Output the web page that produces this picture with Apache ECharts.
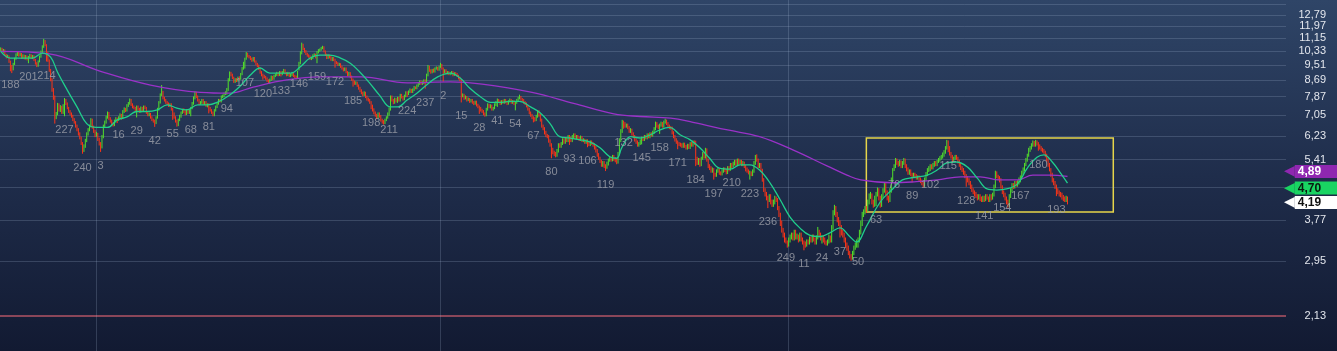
<!DOCTYPE html>
<html><head><meta charset="utf-8">
<script src="https://cdn.jsdelivr.net/npm/echarts@6/dist/echarts.min.js"></script>
<style>html,body{margin:0;padding:0;background:#1c2844;overflow:hidden}#c{width:1337px;height:351px}</style>
</head><body><div id="c"></div>
<script>
const closes = [
10.45,10.30,10.38,10.10,9.95,10.02,9.70,9.45,9.25,9.55,
9.85,10.10,10.22,10.05,10.15,9.92,10.05,9.88,10.00,9.82,
9.95,10.08,9.90,10.02,9.78,9.60,9.45,9.70,9.98,10.25,
10.60,10.95,10.70,10.20,9.75,9.20,8.70,8.20,7.85,6.95,
7.10,7.50,7.25,7.40,7.15,7.45,7.70,7.55,7.35,7.20,
7.10,7.00,6.85,6.75,6.60,6.45,6.30,6.15,5.95,5.72,
5.85,6.05,6.30,6.45,6.60,6.85,6.55,6.40,6.25,6.30,
6.10,5.95,5.82,6.20,6.60,6.75,6.95,7.12,6.90,6.80,
6.70,6.64,6.80,6.90,6.78,6.95,7.05,6.92,7.20,7.30,
7.25,7.45,7.55,7.70,7.50,7.40,7.35,7.25,7.40,7.30,
7.20,7.35,7.25,7.40,7.35,7.15,7.05,7.10,6.95,6.85,
6.80,6.72,6.95,7.30,7.60,7.95,8.10,7.80,7.70,7.60,
7.55,7.45,7.50,7.30,7.10,6.95,6.80,6.65,6.85,7.00,
7.15,7.27,7.20,7.10,7.25,7.15,7.22,7.35,7.55,7.80,
8.05,7.85,7.70,7.55,7.60,7.70,7.55,7.60,7.45,7.50,
7.35,7.25,7.15,7.05,7.25,7.40,7.55,7.70,7.65,7.85,
7.90,8.00,8.05,8.20,8.70,9.05,8.95,8.80,8.60,8.70,
8.65,8.80,8.75,9.00,9.30,9.60,9.85,10.15,10.00,9.95,
9.85,9.75,9.90,9.70,9.55,9.45,9.30,9.10,8.95,8.90,
8.85,8.75,8.65,8.55,8.70,8.85,8.75,8.90,8.95,9.05,
8.95,9.10,9.00,9.10,9.20,9.05,8.95,9.05,8.90,8.95,
9.05,8.90,8.85,8.80,9.10,9.60,10.20,10.70,10.45,10.30,
10.15,10.05,10.00,9.85,9.90,10.05,10.10,9.95,10.25,10.35,
10.40,10.50,10.55,10.30,10.10,9.90,10.05,9.95,9.80,9.90,
9.80,9.65,9.60,9.50,9.55,9.40,9.30,9.22,9.30,9.10,
8.95,9.05,8.85,8.70,8.60,8.50,8.55,8.40,8.28,8.15,
8.05,7.95,8.05,7.85,7.75,7.70,7.60,7.45,7.27,7.15,
7.05,6.95,7.10,7.00,6.85,6.78,6.72,6.85,6.95,7.10,
7.30,7.85,7.70,7.60,7.75,7.65,7.80,7.70,7.94,7.85,
7.75,7.90,8.05,8.00,8.10,8.18,8.10,8.20,8.30,8.28,
8.40,8.50,8.59,8.50,8.55,8.65,8.59,8.95,9.40,9.20,
9.10,9.22,9.15,9.30,9.35,9.25,9.40,9.50,9.30,9.10,
9.20,9.05,9.10,9.00,9.05,9.10,8.95,9.05,9.00,8.90,
8.80,8.69,7.90,7.94,7.80,7.85,7.71,7.75,7.65,7.70,
7.60,7.55,7.62,7.49,7.40,7.35,7.27,7.20,7.10,7.05,
7.30,7.49,7.40,7.45,7.30,7.35,7.50,7.60,7.71,7.65,
7.55,7.65,7.60,7.70,7.62,7.55,7.65,7.71,7.60,7.65,
7.55,7.60,7.70,7.80,7.85,7.75,7.70,7.60,7.55,7.45,
7.30,7.15,7.05,6.95,6.90,6.85,7.00,7.20,7.05,6.85,
6.60,6.50,6.35,6.25,6.20,6.05,5.90,5.73,5.65,5.60,
5.56,5.70,5.90,5.85,5.95,6.08,6.00,6.10,6.05,6.20,
6.15,6.05,6.20,6.26,6.15,6.20,6.15,6.10,6.18,6.05,
6.08,6.00,6.05,5.97,5.92,6.00,5.95,5.90,5.80,5.70,
5.56,5.45,5.35,5.24,5.30,5.20,5.17,5.28,5.39,5.45,
5.40,5.50,5.42,5.38,5.33,5.60,6.08,6.40,6.75,6.70,
6.60,6.64,6.55,6.40,6.45,6.30,6.20,6.08,6.00,5.90,
5.95,6.05,6.15,6.10,6.20,6.15,6.26,6.20,6.30,6.25,
6.37,6.50,6.70,6.60,6.55,6.64,6.70,6.60,6.75,6.80,
6.70,6.60,6.55,6.53,6.35,6.20,6.08,6.00,5.95,5.92,
5.90,5.85,5.92,5.85,5.80,5.88,5.82,5.95,5.90,6.00,
5.95,5.45,5.30,5.40,5.24,5.45,5.60,5.50,5.73,5.40,
5.20,5.14,5.05,5.10,4.95,4.93,5.05,5.10,5.00,4.98,
5.05,5.10,5.08,5.00,5.15,5.10,5.24,5.20,5.28,5.35,
5.25,5.39,5.30,5.35,5.25,5.30,5.20,5.10,5.05,5.00,
5.00,4.95,5.05,5.30,5.50,5.40,5.20,5.25,5.08,4.80,
4.51,4.40,4.30,4.25,4.35,4.20,4.13,4.20,4.30,4.25,
4.05,3.89,3.70,3.55,3.45,3.35,3.30,3.25,3.35,3.40,
3.45,3.38,3.50,3.40,3.42,3.35,3.45,3.35,3.30,3.27,
3.25,3.32,3.30,3.38,3.35,3.42,3.35,3.30,3.40,3.52,
3.45,3.38,3.40,3.35,3.30,3.28,3.32,3.40,3.35,3.60,
3.95,4.05,3.90,3.77,3.70,3.60,3.50,3.45,3.35,3.25,
3.20,3.10,3.05,3.00,3.10,3.20,3.25,3.30,3.35,3.50,
3.70,3.89,3.95,4.05,4.00,4.20,4.35,4.38,4.20,4.13,
4.30,4.40,4.51,4.30,4.13,4.35,4.50,4.65,4.45,4.30,
4.25,4.50,4.80,5.08,5.20,5.39,5.30,5.25,5.33,5.20,
5.30,5.39,5.20,5.10,5.00,5.05,4.95,4.93,4.95,4.90,
4.85,4.86,4.80,4.75,4.70,4.65,4.80,4.95,5.08,5.15,
5.20,5.15,5.24,5.30,5.25,5.35,5.39,5.45,5.50,5.56,
5.65,5.80,6.00,5.80,5.60,5.50,5.39,5.45,5.50,5.45,
5.35,5.25,5.15,5.08,5.00,4.90,4.85,4.79,4.70,4.60,
4.51,4.45,4.40,4.35,4.30,4.35,4.28,4.25,4.30,4.28,
4.35,4.30,4.25,4.35,4.30,4.38,4.60,5.00,4.90,4.85,
4.79,4.60,4.45,4.38,4.30,4.20,4.13,4.35,4.50,4.65,
4.60,4.70,4.65,4.72,4.80,4.85,5.00,5.10,5.25,5.39,
5.55,5.73,5.80,5.90,5.97,5.90,6.00,5.95,5.85,5.80,
5.75,5.70,5.66,5.55,5.40,5.24,5.10,4.95,4.79,4.70,
4.60,4.51,4.45,4.40,4.38,4.32,4.28,4.25,4.30,4.19
];
const opens = [
10.40,10.45,10.30,10.38,10.10,9.95,10.02,9.70,9.45,9.25,
9.55,9.85,10.10,10.22,10.05,10.15,9.92,10.05,9.88,10.00,
9.82,9.95,10.08,9.90,10.02,9.78,9.60,9.45,9.70,9.98,
10.25,10.60,10.95,10.70,10.20,9.75,9.20,8.70,8.20,7.85,
6.95,7.10,7.50,7.25,7.40,7.15,7.45,7.70,7.55,7.35,
7.20,7.10,7.00,6.85,6.75,6.60,6.45,6.30,6.15,5.95,
5.72,5.85,6.05,6.30,6.45,6.60,6.85,6.55,6.40,6.25,
6.30,6.10,5.95,5.82,6.20,6.60,6.75,6.95,7.12,6.90,
6.80,6.70,6.64,6.80,6.90,6.78,6.95,7.05,6.92,7.20,
7.30,7.25,7.45,7.55,7.70,7.50,7.40,7.35,7.25,7.40,
7.30,7.20,7.35,7.25,7.40,7.35,7.15,7.05,7.10,6.95,
6.85,6.80,6.72,6.95,7.30,7.60,7.95,8.10,7.80,7.70,
7.60,7.55,7.45,7.50,7.30,7.10,6.95,6.80,6.65,6.85,
7.00,7.15,7.27,7.20,7.10,7.25,7.15,7.22,7.35,7.55,
7.80,8.05,7.85,7.70,7.55,7.60,7.70,7.55,7.60,7.45,
7.50,7.35,7.25,7.15,7.05,7.25,7.40,7.55,7.70,7.65,
7.85,7.90,8.00,8.05,8.20,8.70,9.05,8.95,8.80,8.60,
8.70,8.65,8.80,8.75,9.00,9.30,9.60,9.85,10.15,10.00,
9.95,9.85,9.75,9.90,9.70,9.55,9.45,9.30,9.10,8.95,
8.90,8.85,8.75,8.65,8.55,8.70,8.85,8.75,8.90,8.95,
9.05,8.95,9.10,9.00,9.10,9.20,9.05,8.95,9.05,8.90,
8.95,9.05,8.90,8.85,8.80,9.10,9.60,10.20,10.70,10.45,
10.30,10.15,10.05,10.00,9.85,9.90,10.05,10.10,9.95,10.25,
10.35,10.40,10.50,10.55,10.30,10.10,9.90,10.05,9.95,9.80,
9.90,9.80,9.65,9.60,9.50,9.55,9.40,9.30,9.22,9.30,
9.10,8.95,9.05,8.85,8.70,8.60,8.50,8.55,8.40,8.28,
8.15,8.05,7.95,8.05,7.85,7.75,7.70,7.60,7.45,7.27,
7.15,7.05,6.95,7.10,7.00,6.85,6.78,6.72,6.85,6.95,
7.10,7.30,7.85,7.70,7.60,7.75,7.65,7.80,7.70,7.94,
7.85,7.75,7.90,8.05,8.00,8.10,8.18,8.10,8.20,8.30,
8.28,8.40,8.50,8.59,8.50,8.55,8.65,8.59,8.95,9.40,
9.20,9.10,9.22,9.15,9.30,9.35,9.25,9.40,9.50,9.30,
9.10,9.20,9.05,9.10,9.00,9.05,9.10,8.95,9.05,9.00,
8.90,8.80,8.69,7.90,7.94,7.80,7.85,7.71,7.75,7.65,
7.70,7.60,7.55,7.62,7.49,7.40,7.35,7.27,7.20,7.10,
7.05,7.30,7.49,7.40,7.45,7.30,7.35,7.50,7.60,7.71,
7.65,7.55,7.65,7.60,7.70,7.62,7.55,7.65,7.71,7.60,
7.65,7.55,7.60,7.70,7.80,7.85,7.75,7.70,7.60,7.55,
7.45,7.30,7.15,7.05,6.95,6.90,6.85,7.00,7.20,7.05,
6.85,6.60,6.50,6.35,6.25,6.20,6.05,5.90,5.73,5.65,
5.60,5.56,5.70,5.90,5.85,5.95,6.08,6.00,6.10,6.05,
6.20,6.15,6.05,6.20,6.26,6.15,6.20,6.15,6.10,6.18,
6.05,6.08,6.00,6.05,5.97,5.92,6.00,5.95,5.90,5.80,
5.70,5.56,5.45,5.35,5.24,5.30,5.20,5.17,5.28,5.39,
5.45,5.40,5.50,5.42,5.38,5.33,5.60,6.08,6.40,6.75,
6.70,6.60,6.64,6.55,6.40,6.45,6.30,6.20,6.08,6.00,
5.90,5.95,6.05,6.15,6.10,6.20,6.15,6.26,6.20,6.30,
6.25,6.37,6.50,6.70,6.60,6.55,6.64,6.70,6.60,6.75,
6.80,6.70,6.60,6.55,6.53,6.35,6.20,6.08,6.00,5.95,
5.92,5.90,5.85,5.92,5.85,5.80,5.88,5.82,5.95,5.90,
6.00,5.95,5.45,5.30,5.40,5.24,5.45,5.60,5.50,5.73,
5.40,5.20,5.14,5.05,5.10,4.95,4.93,5.05,5.10,5.00,
4.98,5.05,5.10,5.08,5.00,5.15,5.10,5.24,5.20,5.28,
5.35,5.25,5.39,5.30,5.35,5.25,5.30,5.20,5.10,5.05,
5.00,5.00,4.95,5.05,5.30,5.50,5.40,5.20,5.25,5.08,
4.80,4.51,4.40,4.30,4.25,4.35,4.20,4.13,4.20,4.30,
4.25,4.05,3.89,3.70,3.55,3.45,3.35,3.30,3.25,3.35,
3.40,3.45,3.38,3.50,3.40,3.42,3.35,3.45,3.35,3.30,
3.27,3.25,3.32,3.30,3.38,3.35,3.42,3.35,3.30,3.40,
3.52,3.45,3.38,3.40,3.35,3.30,3.28,3.32,3.40,3.35,
3.60,3.95,4.05,3.90,3.77,3.70,3.60,3.50,3.45,3.35,
3.25,3.20,3.10,3.05,3.00,3.10,3.20,3.25,3.30,3.35,
3.50,3.70,3.89,3.95,4.05,4.00,4.20,4.35,4.38,4.20,
4.13,4.30,4.40,4.51,4.30,4.13,4.35,4.50,4.65,4.45,
4.30,4.25,4.50,4.80,5.08,5.20,5.39,5.30,5.25,5.33,
5.20,5.30,5.39,5.20,5.10,5.00,5.05,4.95,4.93,4.95,
4.90,4.85,4.86,4.80,4.75,4.70,4.65,4.80,4.95,5.08,
5.15,5.20,5.15,5.24,5.30,5.25,5.35,5.39,5.45,5.50,
5.56,5.65,5.80,6.00,5.80,5.60,5.50,5.39,5.45,5.50,
5.45,5.35,5.25,5.15,5.08,5.00,4.90,4.85,4.79,4.70,
4.60,4.51,4.45,4.40,4.35,4.30,4.35,4.28,4.25,4.30,
4.28,4.35,4.30,4.25,4.35,4.30,4.38,4.60,5.00,4.90,
4.85,4.79,4.60,4.45,4.38,4.30,4.20,4.13,4.35,4.50,
4.65,4.60,4.70,4.65,4.72,4.80,4.85,5.00,5.10,5.25,
5.39,5.55,5.73,5.80,5.90,5.97,5.90,6.00,5.95,5.85,
5.80,5.75,5.70,5.66,5.55,5.40,5.24,5.10,4.95,4.79,
4.70,4.60,4.51,4.45,4.40,4.38,4.32,4.28,4.25,4.30
];
const highs = [
10.55,10.52,10.45,10.42,10.15,10.10,10.05,9.75,9.50,9.62,
9.92,10.18,10.30,10.28,10.22,10.20,10.12,10.10,10.08,10.05,
10.02,10.15,10.12,10.08,10.06,9.85,9.66,9.76,10.05,10.35,
10.68,11.10,11.02,10.75,10.28,9.82,9.28,8.78,8.28,7.92,
7.18,7.58,7.56,7.48,7.45,7.52,7.80,7.76,7.60,7.40,
7.26,7.16,7.06,6.92,6.80,6.66,6.52,6.36,6.20,6.00,
5.92,6.12,6.36,6.52,6.66,6.92,6.90,6.62,6.46,6.38,
6.34,6.16,6.00,6.26,6.66,6.82,7.02,7.20,7.18,6.96,
6.86,6.76,6.86,6.96,6.94,7.00,7.12,7.10,7.26,7.38,
7.36,7.52,7.62,7.78,7.76,7.56,7.46,7.40,7.46,7.46,
7.36,7.42,7.40,7.46,7.46,7.40,7.20,7.16,7.14,7.00,
6.90,6.86,7.00,7.36,7.66,8.02,8.43,8.14,7.86,7.76,
7.66,7.60,7.56,7.56,7.36,7.16,7.00,6.86,6.90,7.06,
7.20,7.32,7.34,7.26,7.30,7.30,7.28,7.40,7.62,7.88,
8.12,8.10,7.92,7.76,7.66,7.76,7.76,7.66,7.66,7.56,
7.56,7.40,7.30,7.20,7.30,7.46,7.60,7.76,7.76,7.92,
7.96,8.06,8.12,8.28,8.78,9.14,9.12,9.02,8.86,8.78,
8.78,8.86,8.88,9.06,9.38,9.68,9.92,10.26,10.22,10.08,
10.02,9.92,9.96,9.96,9.76,9.62,9.52,9.36,9.16,9.02,
8.96,8.90,8.82,8.72,8.76,8.92,8.90,8.96,9.02,9.12,
9.10,9.16,9.16,9.16,9.28,9.26,9.10,9.12,9.10,9.02,
9.12,9.10,8.96,8.92,9.18,9.68,10.30,10.85,10.78,10.52,
10.38,10.22,10.12,10.06,9.98,10.12,10.18,10.16,10.32,10.44,
10.48,10.58,10.65,10.62,10.36,10.16,10.12,10.10,10.02,9.96,
9.96,9.86,9.72,9.66,9.62,9.60,9.46,9.36,9.36,9.36,
9.16,9.12,9.10,8.92,8.76,8.66,8.62,8.60,8.46,8.34,
8.22,8.10,8.12,8.10,7.92,7.82,7.76,7.66,7.50,7.34,
7.20,7.10,7.16,7.16,7.05,6.90,6.84,6.90,7.00,7.16,
7.38,7.92,7.92,7.76,7.82,7.80,7.86,7.86,8.00,8.00,
7.90,7.96,8.12,8.12,8.16,8.26,8.24,8.26,8.38,8.36,
8.46,8.56,8.66,8.66,8.62,8.72,8.72,9.02,9.50,9.46,
9.26,9.28,9.30,9.36,9.42,9.40,9.46,9.62,9.56,9.36,
9.26,9.26,9.16,9.16,9.10,9.16,9.16,9.10,9.10,9.06,
8.96,8.86,8.74,8.02,8.00,7.92,7.90,7.82,7.80,7.76,
7.76,7.66,7.68,7.68,7.54,7.46,7.40,7.32,7.26,7.16,
7.36,7.56,7.54,7.52,7.50,7.40,7.56,7.66,7.78,7.76,
7.70,7.70,7.72,7.76,7.76,7.68,7.70,7.78,7.76,7.70,
7.70,7.66,7.76,7.86,7.96,7.90,7.80,7.76,7.66,7.60,
7.50,7.36,7.20,7.10,7.00,6.96,7.06,7.26,7.26,7.10,
6.90,6.66,6.56,6.42,6.30,6.26,6.10,5.96,5.80,5.70,
5.66,5.76,5.96,5.96,6.00,6.14,6.14,6.16,6.16,6.26,
6.26,6.20,6.26,6.32,6.32,6.26,6.26,6.20,6.24,6.22,
6.14,6.12,6.10,6.10,6.02,6.06,6.06,6.00,5.96,5.86,
5.76,5.62,5.50,5.40,5.36,5.36,5.26,5.34,5.44,5.50,
5.50,5.56,5.56,5.48,5.44,5.66,6.14,6.48,6.85,6.82,
6.76,6.70,6.70,6.60,6.52,6.50,6.36,6.26,6.14,6.06,
6.00,6.10,6.20,6.20,6.26,6.26,6.32,6.32,6.36,6.36,
6.42,6.56,6.78,6.76,6.66,6.70,6.78,6.76,6.82,6.90,
6.86,6.76,6.66,6.60,6.58,6.40,6.26,6.14,6.06,6.00,
5.98,5.96,5.98,5.98,5.90,5.94,5.94,6.00,6.00,6.06,
6.06,6.05,5.50,5.46,5.46,5.50,5.66,5.66,5.80,5.78,
5.44,5.26,5.20,5.16,5.14,5.00,5.10,5.16,5.14,5.04,
5.10,5.16,5.16,5.12,5.20,5.20,5.30,5.30,5.34,5.40,
5.40,5.44,5.44,5.40,5.40,5.36,5.34,5.24,5.16,5.10,
5.06,5.04,5.10,5.36,5.56,5.58,5.44,5.30,5.30,5.12,
4.84,4.56,4.46,4.36,4.40,4.40,4.26,4.26,4.36,4.34,
4.30,4.10,3.94,3.76,3.60,3.50,3.40,3.34,3.40,3.46,
3.50,3.50,3.56,3.56,3.48,3.46,3.50,3.50,3.40,3.34,
3.32,3.36,3.36,3.42,3.42,3.46,3.46,3.40,3.44,3.62,
3.56,3.50,3.44,3.44,3.40,3.34,3.36,3.46,3.44,3.66,
4.00,4.13,4.10,3.96,3.84,3.76,3.66,3.56,3.50,3.40,
3.30,3.24,3.14,3.08,3.14,3.24,3.30,3.36,3.40,3.56,
3.76,3.96,4.02,4.10,4.10,4.26,4.42,4.46,4.42,4.26,
4.36,4.46,4.58,4.56,4.36,4.40,4.56,4.72,4.70,4.50,
4.36,4.56,4.86,5.14,5.26,5.46,5.44,5.36,5.40,5.38,
5.36,5.46,5.44,5.26,5.16,5.10,5.10,5.00,5.00,5.00,
4.96,4.92,4.92,4.86,4.80,4.74,4.86,5.02,5.14,5.20,
5.26,5.26,5.30,5.36,5.36,5.40,5.46,5.52,5.56,5.64,
5.72,5.86,6.08,6.06,5.86,5.66,5.56,5.50,5.56,5.56,
5.50,5.40,5.30,5.20,5.14,5.06,4.96,4.90,4.84,4.76,
4.66,4.56,4.50,4.46,4.40,4.40,4.40,4.34,4.36,4.36,
4.40,4.40,4.34,4.40,4.40,4.44,4.66,5.06,5.04,4.94,
4.90,4.84,4.64,4.50,4.44,4.34,4.26,4.40,4.56,4.70,
4.70,4.76,4.76,4.78,4.86,4.92,5.06,5.16,5.30,5.46,
5.60,5.80,5.86,5.96,6.06,6.04,6.08,6.06,6.00,5.92,
5.86,5.80,5.76,5.70,5.60,5.46,5.30,5.14,5.00,4.84,
4.76,4.66,4.56,4.50,4.46,4.44,4.38,4.34,4.36,4.34
];
const lows = [
10.32,10.25,10.22,10.05,9.88,9.90,9.62,9.15,9.05,9.20,
9.50,9.80,10.02,9.98,10.00,9.85,9.86,9.82,9.82,9.76,
9.60,9.90,9.85,9.84,9.72,9.52,9.38,9.40,9.65,9.92,
10.18,10.52,10.62,9.70,9.68,9.12,8.62,8.10,7.72,6.70,
6.88,7.04,7.20,7.18,7.10,7.10,7.00,7.48,7.30,7.14,
7.04,6.94,6.80,6.70,6.54,6.40,6.24,6.10,5.90,5.60,
5.66,5.80,6.00,6.24,6.40,6.55,6.50,6.34,6.18,6.20,
6.04,5.88,5.66,5.78,6.14,6.54,6.70,6.90,6.84,6.74,
6.64,6.58,6.60,6.74,6.72,6.81,6.90,6.86,6.88,7.14,
7.18,7.20,7.40,7.50,7.44,7.34,7.30,7.18,6.95,7.24,
7.14,7.15,7.20,7.20,7.30,7.10,7.00,7.00,6.90,6.80,
6.74,6.57,6.68,6.90,7.24,7.55,7.90,7.74,7.64,7.54,
7.48,7.40,7.40,7.24,6.85,6.90,6.74,6.58,6.60,6.80,
6.94,7.10,7.14,7.04,7.05,7.10,7.10,7.00,7.30,7.50,
7.74,7.80,7.64,7.48,7.50,7.54,7.50,7.48,7.40,7.38,
7.12,7.20,7.10,7.00,7.00,7.20,7.35,7.50,7.60,7.60,
7.80,7.84,7.94,7.96,8.14,8.62,8.88,8.74,8.54,8.54,
8.58,8.60,8.68,8.70,8.94,9.24,9.30,9.80,9.94,9.88,
9.78,9.68,9.70,9.64,9.48,9.38,9.22,9.02,8.88,8.70,
8.78,8.70,8.58,8.48,8.50,8.64,8.68,8.70,8.84,8.90,
8.88,8.90,8.87,8.94,9.04,8.98,8.88,8.90,8.84,8.84,
8.90,8.84,8.78,8.72,8.74,9.20,9.54,10.12,10.38,10.22,
10.08,9.98,9.92,9.78,9.78,9.84,9.98,9.88,9.60,10.18,
10.28,10.34,10.44,10.24,10.02,9.84,9.85,9.88,9.74,9.72,
9.72,9.35,9.54,9.44,9.44,9.34,9.24,9.14,9.16,9.04,
8.88,8.90,8.78,8.64,8.35,8.44,8.44,8.34,8.20,8.08,
7.98,7.88,7.90,7.80,7.68,7.64,7.54,7.30,7.20,7.08,
6.98,6.88,6.90,6.94,6.78,6.70,6.66,6.68,6.80,6.90,
7.02,7.24,7.64,7.52,7.54,7.60,7.58,7.64,7.64,7.78,
7.68,7.70,7.84,7.85,7.94,8.04,8.04,8.04,8.14,8.22,
8.22,8.34,8.44,8.44,8.44,8.48,8.25,8.52,8.88,9.12,
9.02,9.04,9.08,9.08,9.24,9.18,9.18,9.34,9.24,8.60,
9.04,8.98,8.98,8.94,8.94,8.98,8.88,8.90,8.94,8.84,
8.72,8.62,7.60,7.84,7.72,7.74,7.64,7.66,7.58,7.60,
7.54,7.48,7.50,7.42,7.34,7.10,7.20,7.14,7.04,6.98,
7.00,7.24,7.34,7.34,7.24,7.24,7.30,7.44,7.40,7.58,
7.48,7.50,7.54,7.54,7.56,7.48,7.50,7.60,7.54,7.54,
7.48,7.25,7.54,7.64,7.74,7.68,7.64,7.54,7.48,7.38,
7.24,7.08,6.98,6.88,6.75,6.78,6.80,6.94,6.98,6.78,
6.54,6.44,6.28,6.18,6.14,5.98,5.84,5.45,5.58,5.52,
5.48,5.50,5.64,5.80,5.80,5.90,5.94,5.94,6.00,6.00,
5.90,6.00,6.00,6.14,6.10,6.10,6.10,6.04,6.04,6.00,
6.00,5.94,5.94,5.82,5.86,5.86,5.90,5.84,5.74,5.64,
5.50,5.40,5.30,5.18,5.18,5.14,5.05,5.12,5.22,5.34,
5.34,5.35,5.36,5.32,5.26,5.28,5.55,6.00,6.34,6.50,
6.54,6.54,6.48,6.34,6.34,6.24,6.14,6.02,5.94,5.84,
5.84,5.90,5.92,6.04,6.04,6.10,6.10,6.14,6.14,6.20,
6.20,6.30,6.44,6.54,6.48,6.30,6.58,6.54,6.54,6.70,
6.64,6.54,6.48,6.46,6.28,6.14,6.02,5.94,5.75,5.86,
5.84,5.80,5.80,5.80,5.74,5.74,5.76,5.76,5.84,5.84,
5.90,5.20,5.24,5.24,5.18,5.20,5.40,5.44,5.44,5.34,
5.14,5.08,5.00,5.00,4.80,4.88,4.88,5.00,4.94,4.92,
4.92,5.00,5.02,4.95,4.96,5.04,5.06,5.12,5.16,5.22,
5.20,5.20,5.24,5.26,5.20,5.20,5.14,5.04,5.00,4.95,
4.80,4.90,4.90,5.00,5.24,5.34,5.14,5.14,5.02,4.74,
4.46,4.34,4.24,4.05,4.20,4.14,4.08,4.08,4.14,4.20,
4.00,3.84,3.64,3.50,3.40,3.30,3.28,3.20,3.22,3.30,
3.36,3.34,3.34,3.36,3.36,3.30,3.32,3.32,3.26,3.15,
3.20,3.22,3.26,3.26,3.30,3.30,3.32,3.26,3.26,3.36,
3.40,3.34,3.28,3.30,3.26,3.24,3.24,3.28,3.30,3.30,
3.56,3.88,3.84,3.72,3.64,3.40,3.44,3.40,3.30,3.20,
3.14,3.06,3.00,2.96,2.98,3.06,3.16,3.20,3.20,3.30,
3.46,3.64,3.84,3.90,3.94,3.96,4.14,4.28,4.14,4.06,
4.08,4.10,4.34,4.24,4.06,4.08,4.30,4.44,4.38,4.24,
4.18,4.20,4.44,4.74,5.05,5.14,5.24,5.18,5.20,5.14,
5.14,5.24,5.14,5.04,4.94,4.94,4.90,4.72,4.88,4.84,
4.80,4.80,4.74,4.70,4.64,4.58,4.60,4.76,4.90,5.02,
5.05,5.10,5.10,5.18,5.20,5.20,5.30,5.34,5.40,5.44,
5.50,5.60,5.74,5.65,5.54,5.44,5.32,5.34,5.40,5.40,
5.28,5.18,5.08,5.02,4.94,4.84,4.60,4.72,4.64,4.54,
4.46,4.40,4.34,4.30,4.24,4.26,4.22,4.20,4.20,4.20,
4.22,4.26,4.20,4.20,4.24,4.26,4.34,4.56,4.84,4.78,
4.72,4.55,4.40,4.32,4.24,4.14,4.06,4.08,4.30,4.44,
4.54,4.55,4.60,4.60,4.66,4.72,4.80,4.94,5.04,5.20,
5.34,5.50,5.66,5.74,5.84,5.84,5.84,5.88,5.70,5.74,
5.68,5.64,5.60,5.48,5.34,5.18,5.04,4.88,4.72,4.64,
4.54,4.35,4.40,4.34,4.32,4.26,4.22,4.20,4.20,4.14
];
const maShortIdx = [0,7,14,23,30,36,41,48,55,62,69,77,84,91,98,105,113,120,127,134,142,149,156,165,172,180,187,194,201,209,216,223,230,237,245,252,259,266,273,281,286,293,300,307,315,324,331,338,346,353,360,367,374,382,389,396,403,410,418,425,432,439,444,448,454,461,468,475,482,490,497,504,511,518,526,533,540,547,555,562,569,576,583,591,598,605,612,617,624,634,643,650,658,668,675,682,689,697,704,711,718,725,733,740,747,752,758,764,769];
const maShortVal = [10.30,9.90,9.90,9.90,10.20,9.95,9.10,8.18,7.40,6.70,6.55,6.55,6.85,6.97,7.20,7.20,7.27,7.49,7.35,7.27,7.49,7.49,7.60,7.94,8.33,8.95,9.33,9.05,9.05,9.05,9.40,9.90,10.08,10.08,9.90,9.60,9.10,8.53,7.94,7.40,7.40,7.71,8.03,8.43,8.85,9.05,8.80,8.28,7.85,7.60,7.60,7.65,7.65,7.40,7.14,6.70,6.20,6.15,6.08,6.00,5.80,5.50,5.45,5.83,6.20,6.15,6.26,6.45,6.55,6.26,6.08,5.80,5.45,5.14,5.11,5.24,5.24,5.08,4.68,4.25,3.84,3.60,3.45,3.42,3.50,3.60,3.42,3.31,3.63,4.20,4.54,4.79,4.86,4.93,5.08,5.30,5.33,5.17,4.84,4.54,4.51,4.54,4.68,5.14,5.48,5.56,5.33,4.99,4.70];
const maLongIdx = [0,35,72,108,144,165,182,206,230,260,293,324,347,383,413,442,461,483,499,524,547,571,596,610,620,643,660,675,692,706,720,733,744,756,769];
const maLongVal = [10.30,10.15,9.15,8.43,8.07,8.03,8.33,8.69,8.85,8.85,8.54,8.59,8.48,8.07,7.56,7.10,6.99,6.92,6.75,6.45,6.20,5.73,5.20,4.93,4.79,4.71,4.74,4.79,4.88,4.88,4.79,4.79,4.93,4.93,4.89];
const dayLabels = ['188','201','214','227','240','3','16','29','42','55','68','81','94','107','120','133','146','159','172','185','198','211','224','237','2','15','28','41','54','67','80','93','106','119','132','145','158','171','184','197','210','223','236','249','11','24','37','50','63','76','89','102','115','128','141','154','167','180','193'];
const dayLabelIdx = [7,20,33,46,59,72,85,98,111,124,137,150,163,176,189,202,215,228,241,254,267,280,293,306,319,332,345,358,371,384,397,410,423,436,449,462,475,488,501,514,527,540,553,566,579,592,605,618,631,644,657,670,683,696,709,722,735,748,761];
const gridVals = [2.13,2.95,3.77,4.59,5.41,6.23,7.05,7.87,8.69,9.51,10.33,11.15,11.97,12.79,13.61];
const axisLabelVals = [2.13,2.95,3.77,5.41,6.23,7.05,7.87,8.69,9.51,10.33,11.15,11.97,12.79];
const vLineIdx = [69,317,568];
const boxFrom = [624, 6.15];
const boxTo = [802, 3.96];
const lastMaLong = 4.89, lastMaShort = 4.70, lastClose = 4.19;
const slotCount = 927;

const fmt = v => v.toFixed(2).replace('.', ',');
const cats = Array.from({length: slotCount}, (_, i) => String(i));
const candles = closes.map((c, i) => [opens[i], c, lows[i], highs[i]]);
const chart = echarts.init(document.getElementById('c'), null, {renderer: 'canvas'});
const UP = '#52e02a', DOWN = '#ff3416';
const CLEAR = 'rgba(0,0,0,0)';
const badge = (v, key, dy) => ({
  yAxis: v,
  label: {show: true, position: 'end', distance: -2, offset: [0, dy],
    formatter: '{' + key + 'a|\u25C0}{' + key + '|' + fmt(v) + '}'}
});
chart.setOption({
  animation: false,
  backgroundColor: {type: 'linear', x: 0, y: 0, x2: 0, y2: 1,
    colorStops: [{offset: 0, color: '#2f4567'}, {offset: 0.5, color: '#1f2d4b'}, {offset: 1, color: '#121a32'}]},
  grid: {left: 0, right: 51, top: 0, bottom: 0, containLabel: false},
  xAxis: {type: 'category', data: cats, boundaryGap: true, show: false},
  yAxis: {type: 'log', logBase: 10, min: 1.729, max: 13.99, position: 'right',
    axisLine: {show: false}, axisTick: {show: false}, splitLine: {show: false},
    axisLabel: {customValues: axisLabelVals, formatter: v => fmt(v), color: '#e4e7ee',
      fontSize: 11, fontFamily: 'Liberation Sans', align: 'right', margin: 40}},
  series: [
    {type: 'scatter', data: dayLabelIdx.map(i => [i, lows[i]]), symbolSize: 1,
     itemStyle: {color: CLEAR}, z: 5, silent: true,
     label: {show: true, position: 'bottom', distance: 8, color: '#a0a3ab', fontSize: 11,
       fontFamily: 'Liberation Sans', formatter: p => dayLabels[p.dataIndex]},
     markLine: {silent: true, symbol: ['none', 'none'], animation: false, z: 1,
       label: {show: false},
       data: gridVals.map(v => ({yAxis: v, lineStyle: v === 2.13 ?
           {color: '#8a4659', width: 2, type: 'solid'} : {color: 'rgba(170,185,215,0.22)', width: 1, type: 'solid'}}))
         .concat(vLineIdx.map(i => ({xAxis: i, lineStyle: {color: 'rgba(170,185,215,0.22)', width: 1, type: 'solid'}})))}
    },
    {type: 'candlestick', data: candles, barWidth: 1.2, z: 2,
     itemStyle: {color: UP, color0: DOWN, borderColor: UP, borderColor0: DOWN, borderWidth: 1},
     markArea: {silent: true, itemStyle: {color: CLEAR, borderColor: '#e6d54a', borderWidth: 1.5},
       data: [[{xAxis: boxFrom[0], yAxis: boxFrom[1]}, {xAxis: boxTo[0], yAxis: boxTo[1]}]]},
     markLine: {silent: true, symbol: ['none', 'none'], animation: false,
       lineStyle: {color: CLEAR, width: 1, type: 'solid'},
       label: {show: true, rich: {
         pa: {color: '#8f27b0', fontSize: 14, fontFamily: 'DejaVu Sans'},
         p: {color: '#ffffff', backgroundColor: '#8f27b0', fontWeight: 'bold', fontSize: 12, fontFamily: 'Liberation Sans', padding: [1, 16, 0, 3], lineHeight: 13},
         ga: {color: '#19d462', fontSize: 14, fontFamily: 'DejaVu Sans'},
         g: {color: '#0a1a10', backgroundColor: '#19d462', fontWeight: 'bold', fontSize: 12, fontFamily: 'Liberation Sans', padding: [1, 16, 0, 3], lineHeight: 13},
         wa: {color: '#ffffff', fontSize: 14, fontFamily: 'DejaVu Sans'},
         w: {color: '#111111', backgroundColor: '#ffffff', fontWeight: 'bold', fontSize: 12, fontFamily: 'Liberation Sans', padding: [1, 16, 0, 3], lineHeight: 13}
       }},
       data: [badge(lastMaLong, 'p', -5), badge(lastMaShort, 'g', 5), badge(lastClose, 'w', 0)]}
    },
    {type: 'line', data: maLongIdx.map((i, k) => [i, maLongVal[k]]), showSymbol: false, smooth: 0.4,
     lineStyle: {color: '#9a32c8', width: 1.3}, z: 3, silent: true},
    {type: 'line', data: maShortIdx.map((i, k) => [i, maShortVal[k]]), showSymbol: false, smooth: 0.4,
     lineStyle: {color: '#1fcf8c', width: 1.3}, z: 4, silent: true}
  ]
});
</script>
</body></html>
